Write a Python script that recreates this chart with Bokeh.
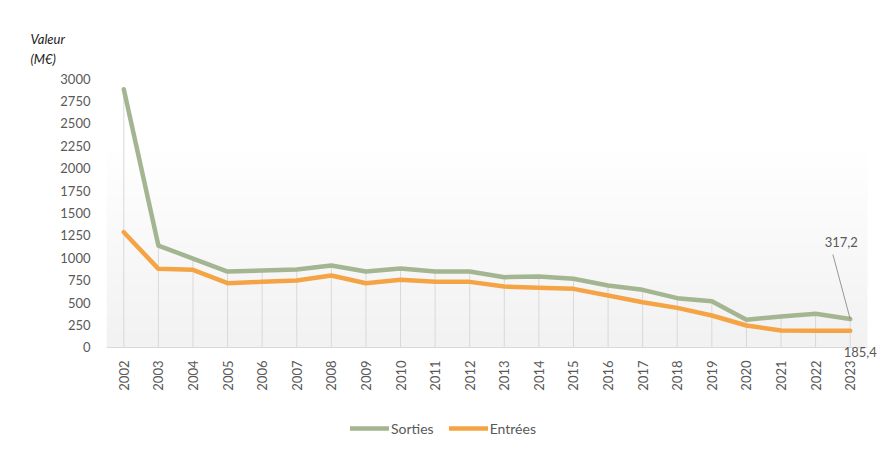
import math
import numpy as np
from bokeh.plotting import figure
from bokeh.layouts import column
from bokeh.models import (Range1d, Legend, LegendItem, Label,
                          FixedTicker, Title)
from bokeh.embed import file_html
from bokeh.resources import INLINE

# ---- data ----
years = [str(y) for y in range(2002, 2024)]
sorties = [2880, 1137, 992, 847, 858, 870, 914, 847, 881, 847, 847,
           784, 792, 766, 691, 643, 550, 516, 309, 346, 376, 317.2]
entrees = [1286, 877, 866, 717, 732, 747, 803, 717, 755, 732, 732,
           680, 666, 654, 580, 505, 442, 357, 245, 190, 188, 185.4]
y_ticks = list(range(0, 3001, 250))
series_names = ["Sorties", "Entrées"]
axis_title = "Valeur\n(M€)"

GREEN = "#a3b591"
ORANGE = "#f5a445"
FONT = "Lato"
TXT = "#595959"

xs = list(range(len(years)))          # category positions
n = len(years)

p = figure(width=880, height=405,
           x_range=Range1d(-0.5, n - 0.5 + 0.376),
           y_range=Range1d(-145, 3000),
           output_backend="svg", toolbar_location=None,
           min_border_left=106, min_border_right=0,
           min_border_top=78, min_border_bottom=45)
p.background_fill_color = "white"
p.border_fill_color = "white"
p.outline_line_color = None

# plot-area gradient (white at top -> light grey at bottom)
rows = 200
t = np.linspace(0, 1, rows)
g = (242 + 13 * np.clip(t / 0.72, 0, 1)).astype(np.uint8)
img = np.zeros((rows, 1), dtype=np.uint32)
view = img.view(dtype=np.uint8).reshape((rows, 1, 4))
view[:, 0, 0] = g
view[:, 0, 1] = g
view[:, 0, 2] = g
view[:, 0, 3] = 255
p.image_rgba(image=[img], x=-0.5, y=0, dw=n, dh=3000)

# category axis line at zero
p.segment(x0=[-0.5], y0=[0], x1=[n - 0.5], y1=[0], line_color="#d9d9d9", line_width=1)

# drop lines
tops = [max(a, b) for a, b in zip(sorties, entrees)]
p.segment(x0=xs, y0=[0] * n, x1=xs, y1=tops, line_color="#d9d9d6", line_width=1)

r_s = p.line(xs, sorties, line_color=GREEN, line_width=4.5,
             line_join="round", line_cap="round")
r_e = p.line(xs, entrees, line_color=ORANGE, line_width=4.5,
             line_join="round", line_cap="round")

# axes
p.xgrid.grid_line_color = None
p.ygrid.grid_line_color = None
for ax in (p.xaxis[0], p.yaxis[0]):
    ax.major_tick_line_color = None
    ax.minor_tick_line_color = None
    ax.major_tick_out = 0
    ax.major_tick_in = 0
    ax.axis_line_color = None
    ax.major_label_text_font = FONT
    ax.major_label_text_font_size = "13px"
    ax.major_label_text_color = TXT
p.xaxis.ticker = FixedTicker(ticks=xs)
p.xaxis.major_label_overrides = {x: y for x, y in zip(xs, years)}
p.xaxis.major_label_orientation = math.pi / 2
p.xaxis.major_label_standoff = 0
p.yaxis.ticker = FixedTicker(ticks=y_ticks)
p.yaxis.major_label_standoff = 16

# axis title (above, left of the value axis)
p.add_layout(Title(text=axis_title, align="left", offset=-76, standoff=22,
                   text_font=FONT, text_font_style="italic",
                   text_font_size="13px", text_color="#1a1a1a",
                   text_line_height=1.3), "above")

# last value labels
fmt = lambda v: f"{v:.1f}".replace(".", ",")
p.add_layout(Label(x=xs[-1], y=sorties[-1], text=fmt(sorties[-1]),
                   x_offset=-9, y_offset=72, text_align="center",
                   text_baseline="bottom", text_font=FONT,
                   text_font_size="13px", text_color=TXT))
p.add_layout(Label(x=xs[-1], y=entrees[-1], text=fmt(entrees[-1]),
                   x_offset=10, y_offset=-16, text_align="center",
                   text_baseline="top", text_font=FONT,
                   text_font_size="13px", text_color=TXT))
# leader line for Sorties label
p.segment(x0=[xs[-1] - 0.5], y0=[sorties[-1] + 720], x1=[xs[-1]], y1=[sorties[-1]],
          line_color="#7f7f7f", line_width=0.8)

# legend strip below the chart (frame aligned with the chart's frame)
p2 = figure(width=880, height=45, x_range=Range1d(0, 1), y_range=Range1d(0, 1),
            x_axis_type=None, y_axis_type=None,
            output_backend="svg", toolbar_location=None,
            min_border_left=0, min_border_right=0,
            min_border_top=0, min_border_bottom=0)
p2.outline_line_color = None
p2.xgrid.grid_line_color = None
p2.ygrid.grid_line_color = None
p2.border_fill_color = "white"
l_s = p2.line(x=[-5, -4], y=[-5, -5], line_color=GREEN, line_width=4.5, line_cap="round")
l_e = p2.line(x=[-5, -4], y=[-5, -5], line_color=ORANGE, line_width=4.5, line_cap="round")
legend = Legend(items=[LegendItem(label=series_names[0], renderers=[l_s]),
                       LegendItem(label=series_names[1], renderers=[l_e])],
                location=(244, 12), orientation="horizontal",
                glyph_width=39, glyph_height=20, label_height=20,
                label_standoff=2, spacing=15, padding=0, margin=0,
                border_line_color=None, background_fill_alpha=0,
                label_text_font=FONT, label_text_font_size="14px",
                label_text_color=TXT)
p2.add_layout(legend, "center")

layout = column(p, p2, spacing=0)
open("out.html", "w").write(file_html(layout, INLINE))
